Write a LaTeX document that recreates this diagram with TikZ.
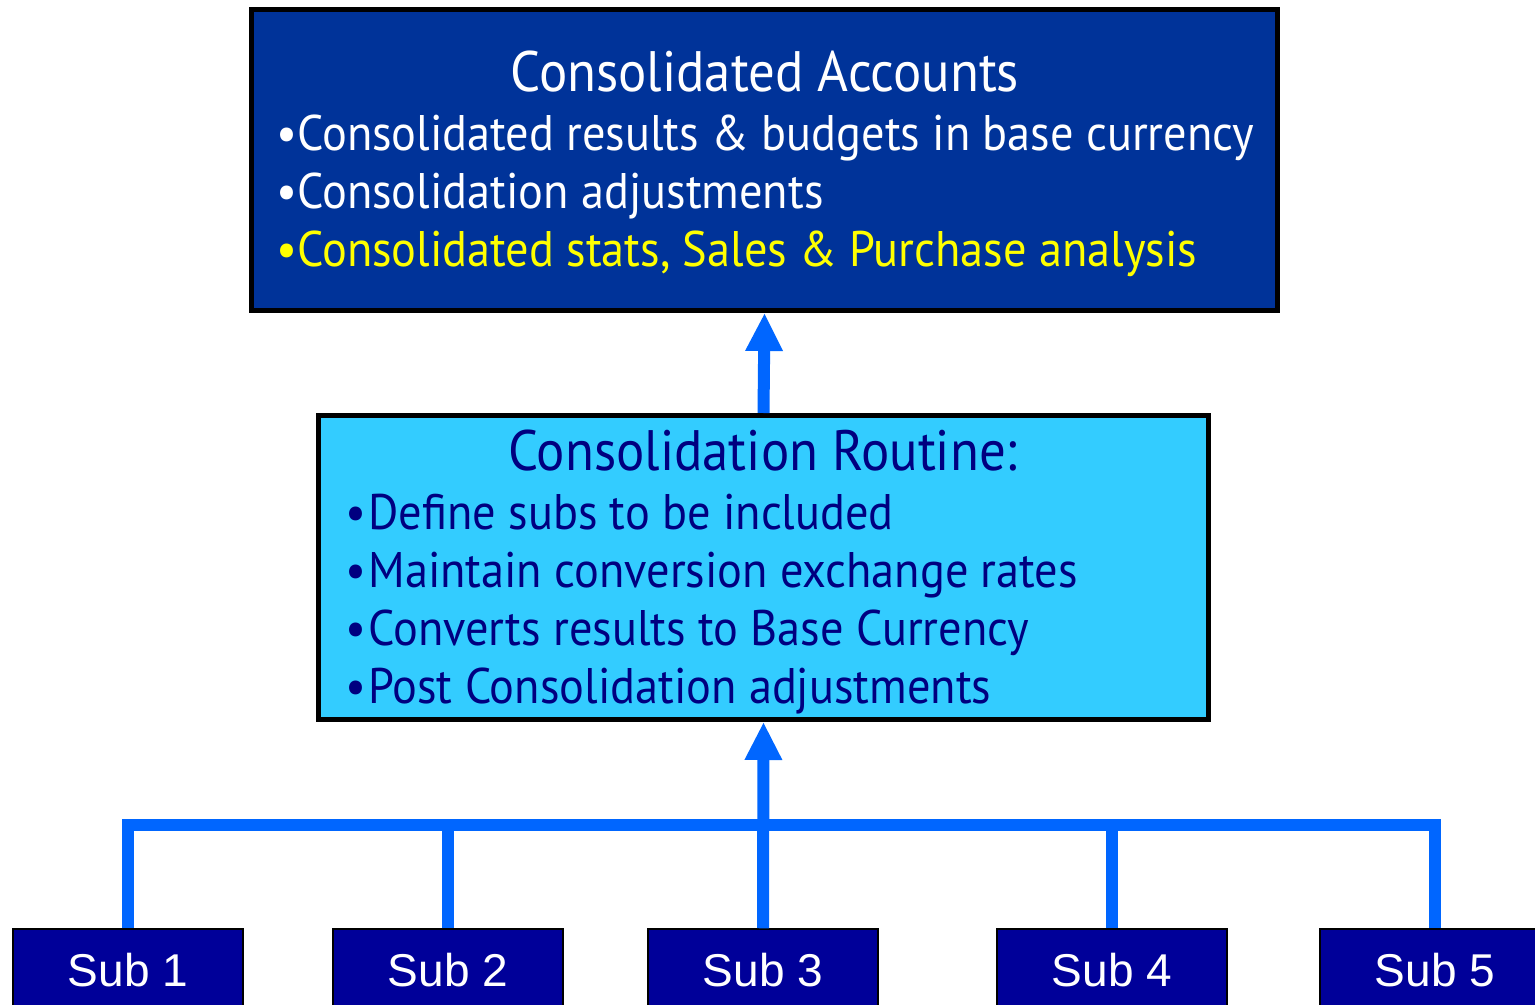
\documentclass[tikz,border=0pt]{standalone}
\usepackage{fontspec}
\usetikzlibrary{arrows.meta}
\newfontfamily\boxfont{PT Sans}[FakeStretch=0.927]
\newfontfamily\subfont{Liberation Sans}
\definecolor{acctblue}{RGB}{0,51,153}
\definecolor{routinecyan}{RGB}{51,204,255}
\definecolor{subnavy}{RGB}{0,0,153}
\definecolor{textnavy}{RGB}{0,0,128}
\definecolor{linkblue}{RGB}{0,102,255}
\definecolor{hiyellow}{RGB}{255,255,0}

\begin{document}
\begin{tikzpicture}[
    x = 0.5pt, y = -0.5pt,
    bigbox/.style = {draw = black, line width = 2.5pt, inner sep = 0pt},
    subbox/.style = {draw = black, line width = 0.75pt, fill = subnavy,
        minimum width = 115pt, minimum height = 41pt, inner sep = 0pt,
        text = white, font = \subfont\fontsize{23pt}{27pt}\selectfont},
    boxtitle/.style = {anchor = base, inner sep = 0pt,
        font = \boxfont\fontsize{28.5pt}{33pt}\selectfont},
    boxline/.style = {anchor = base west, inner sep = 0pt,
        font = \boxfont\fontsize{25pt}{30pt}\selectfont},
    link/.style = {draw = linkblue, line width = 6pt, line join = miter},
    uparrow/.style = {link, -{Triangle[width = 17.5pt, length = 19pt]}}]

\useasboundingbox (0,0) rectangle (1535,1005);

\node[bigbox, fill = acctblue, minimum width = 513pt, minimum height = 150.5pt]
    (acct) at (764.5,160) {};
\node[bigbox, fill = routinecyan, minimum width = 445pt, minimum height = 152pt]
    (routine) at (763.5,567.5) {};

\node[boxtitle, text = white] (accttitle) at (765,92) {Consolidated Accounts};
\node[boxline, text = white] (acctline1) at (276,151)
    {•Consolidated results \& budgets in base currency};
\node[boxline, text = white] (acctline2) at (276,209)
    {•Consolidation adjustments};
\node[boxline, text = hiyellow] (acctline3) at (276,267)
    {•Consolidated stats, Sales \& Purchase analysis};

\node[boxtitle, text = textnavy] (routinetitle) at (763,470) {Consolidation Routine:};
\node[boxline, text = textnavy] (routineline1) at (345,529)
    {•\kern1pt Define subs to be included};
\node[boxline, text = textnavy] (routineline2) at (345,587)
    {•\kern1pt Maintain conversion exchange rates};
\node[boxline, text = textnavy] (routineline3) at (345,645)
    {•\kern1pt Converts results to Base Currency};
\node[boxline, text = textnavy] (routineline4) at (345,703)
    {•\kern1pt Post Consolidation adjustments};

\node[subbox] (sub1) at (128,970) {Sub 1};
\node[subbox] (sub2) at (448,970) {Sub 2};
\node[subbox] (sub3) at (763,970) {Sub 3};
\node[subbox] (sub4) at (1112,970) {Sub 4};
\node[subbox] (sub5) at (1435,970) {Sub 5};

\coordinate (bar) at (763,825);

\draw[link] (sub1.north) |- (bar) -| (sub5.north);
\draw[link] (sub2.north) -- (sub2.north |- bar);
\draw[link] (sub4.north) -- (sub4.north |- bar);
\draw[uparrow] (sub3.north) -- (routine.south);
\draw[uparrow] (routine.north) -- (acct.south);
\end{tikzpicture}
\end{document}
